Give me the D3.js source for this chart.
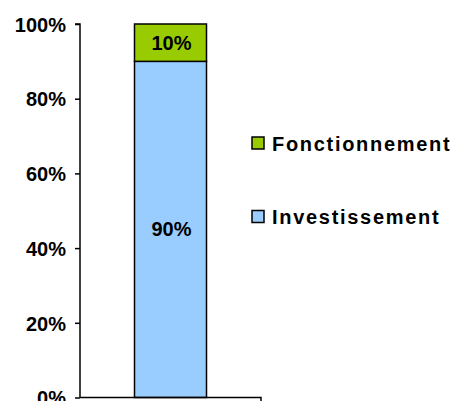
<!DOCTYPE html>
<html><head><meta charset="utf-8">
<script src="https://cdn.jsdelivr.net/npm/d3@7"></script>
<style>body{margin:0;background:#fff}svg{display:block}</style>
</head><body>
<svg id="c" width="452" height="401"></svg>
<script>
const categories = ["Budget"];
const seriesNames = ["Investissement", "Fonctionnement"];
const investissement = [90];
const fonctionnement = [10];
const tickValues = [0, 20, 40, 60, 80, 100];
const colors = ["#99CCFF", "#99CC00"];

const svg = d3.select("#c");
const font = "'Liberation Sans', Arial, sans-serif";
const x = d3.scaleBand().domain(categories).range([80, 261]).paddingInner(0).paddingOuter(0.3);
const y = d3.scaleLinear().domain([0, 100]).range([397.5, 24]);

const rows = categories.map((c, i) => ({cat: c, Investissement: investissement[i], Fonctionnement: fonctionnement[i]}));
const stacked = d3.stack().keys(seriesNames)(rows);

const bw = 72;
stacked.forEach((s, si) => {
  svg.selectAll(null).data(s).enter().append("rect")
    .attr("x", d => x(d.data.cat) + x.bandwidth()/2 - bw/2)
    .attr("y", d => y(d[1]))
    .attr("width", bw)
    .attr("height", d => y(d[0]) - y(d[1]))
    .attr("fill", colors[si]).attr("stroke", "#000").attr("stroke-width", 1.5);
  svg.selectAll(null).data(s).enter().append("text")
    .attr("x", d => x(d.data.cat) + x.bandwidth()/2 + 1)
    .attr("y", d => (y(d[0]) + y(d[1]))/2 + 7)
    .attr("text-anchor", "middle")
    .attr("font-family", font).attr("font-weight", "bold").attr("font-size", 20)
    .text(d => (d[1]-d[0]) + "%");
});

// y axis
const yAxis = d3.axisLeft(y).tickValues(tickValues).tickSize(5).tickPadding(9).tickFormat(d => d + "%");
const ga = svg.append("g").attr("transform", "translate(80,0)").call(yAxis);
ga.select(".domain").attr("stroke", "#000").attr("stroke-width", 1.5).attr("d", "M-5,24H0V397.5");
ga.selectAll(".tick line").attr("stroke", "#000").attr("stroke-width", 1.5);
ga.selectAll(".tick text").attr("font-family", font).attr("font-weight", "bold").attr("font-size", 20).attr("fill", "#000").attr("dy", "0.36em");

// x axis
const xAxis = d3.axisBottom(x).tickValues([]).tickSizeOuter(5);
const gx = svg.append("g").attr("transform", "translate(0,397.5)").call(xAxis);
gx.select(".domain").attr("stroke", "#000").attr("stroke-width", 1.5).attr("d", "M80,0H261V5");

// legend
const legendItems = [{name: "Fonctionnement", color: colors[1], y: 143}, {name: "Investissement", color: colors[0], y: 216.5}];
const lg = svg.selectAll(".lg").data(legendItems).enter().append("g");
lg.append("rect").attr("x", 252).attr("y", d => d.y - 6).attr("width", 12).attr("height", 12)
  .attr("fill", d => d.color).attr("stroke", "#000").attr("stroke-width", 1.5);
lg.append("text").attr("x", 272).attr("y", d => d.y + 7.5)
  .attr("font-family", font).attr("font-weight", "bold").attr("font-size", 20)
  .attr("letter-spacing", 1.7).text(d => d.name);
</script>
</body></html>
